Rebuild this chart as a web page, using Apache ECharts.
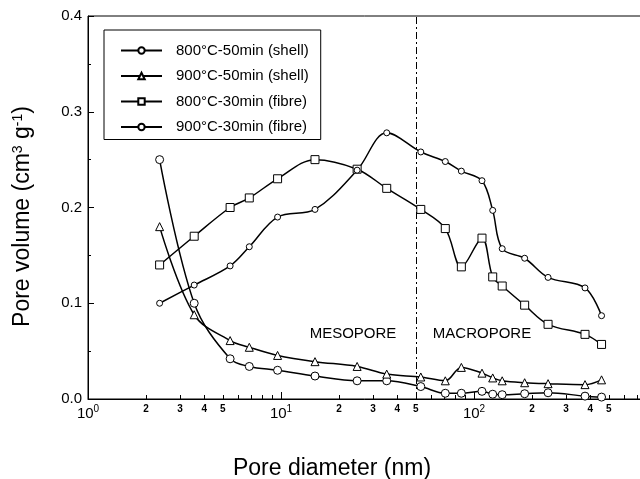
<!DOCTYPE html>
<html><head><meta charset="utf-8">
<script src="https://cdn.jsdelivr.net/npm/echarts@6/dist/echarts.min.js"></script>
<style>html,body{margin:0;padding:0;background:#fff}#c{width:640px;height:479px}</style>
</head><body><div id="c"></div>
<script>
// Pore diameters (nm), shared by all series
var diameters = [2.35, 3.55, 5.45, 6.85, 9.6, 15, 24.8, 35.3, 53, 71, 86, 110, 125, 140, 183, 242, 376, 458];
var shell800_50 = [0.25, 0.10, 0.042, 0.034, 0.030, 0.024, 0.019, 0.019, 0.013, 0.006, 0.006, 0.008, 0.005, 0.0045, 0.0055, 0.0065, 0.003, 0.002];
var shell900_50 = [0.18, 0.088, 0.061, 0.054, 0.0455, 0.039, 0.034, 0.026, 0.023, 0.019, 0.033, 0.027, 0.022, 0.019, 0.017, 0.016, 0.015, 0.020];
var fibre800_30 = [0.14, 0.17, 0.20, 0.21, 0.23, 0.25, 0.24, 0.22, 0.198, 0.178, 0.138, 0.168, 0.1275, 0.118, 0.098, 0.078, 0.0675, 0.057];
var fibre900_30 = [0.10, 0.119, 0.139, 0.159, 0.19, 0.198, 0.239, 0.278, 0.258, 0.248, 0.238, 0.228, 0.197, 0.157, 0.147, 0.127, 0.116, 0.087];
var seriesNames = ['800°C-50min (shell)', '900°C-50min (shell)', '800°C-30min (fibre)', '900°C-30min (fibre)'];
var decadeTicks = [1, 10, 100, 1000];
var minorTicks = [2,3,4,5,6,7,8,9,20,30,40,50,60,70,80,90,200,300,400,500,600,700,800,900];
var minorLabels = [2,3,4,5,20,30,40,50,200,300,400,500];
var boundary = 50;
var regionLabels = ['MESOPORE', 'MACROPORE'];

var FONT = "'Liberation Sans', Arial, sans-serif";
function pairs(v){ return diameters.map(function(d,i){ return [d, v[i]]; }); }
var symbols = ['circle', 'triangle', 'rect', 'circle'];
var sizes = [8, 8, 8, 6];
var vals = [shell800_50, shell900_50, fibre800_30, fibre900_30];

var series = vals.map(function(v, k){
  var s = {
    name: seriesNames[k], type: 'line', xAxisIndex: 0, yAxisIndex: 0,
    data: pairs(v), smooth: 0.35, showAllSymbol: true,
    symbol: symbols[k], symbolSize: sizes[k],
    lineStyle: {color: '#000', width: 1.5},
    itemStyle: {color: '#fff', borderColor: '#000', borderWidth: 1},
    emphasis: {disabled: true}, z: 3
  };
  if (k === 0) {
    s.markLine = {
      silent: true, symbol: ['none', 'none'], label: {show: false},
      lineStyle: {color: '#000', width: 1, type: [7, 3, 2, 3]},
      data: [{xAxis: boundary}]
    };
  }
  return s;
});

var option = {
  backgroundColor: '#fff',
  animation: false,
  textStyle: {fontFamily: FONT, color: '#000'},
  grid: {left: 88, top: 16, right: -27, bottom: 80, show: true, borderColor: '#000', borderWidth: 1,
         containLabel: false, outerBoundsMode: 'none'},
  legend: {
    orient: 'vertical', left: 104, top: 30,
    padding: [13, 12, 5, 16], itemGap: 10.5, itemWidth: 41, itemHeight: 8,
    borderColor: '#000', borderWidth: 1, backgroundColor: '#fff',
    textStyle: {fontFamily: FONT, fontSize: 15, color: '#000', padding: [0, 0, 0, 9],
                backgroundColor: 'rgba(255,255,255,0)'},
    data: seriesNames
  },
  xAxis: [{
    type: 'log', logBase: 10, min: 1, max: 1000, position: 'bottom',
    axisLine: {show: true, onZero: false, lineStyle: {color: '#000', width: 1}},
    axisTick: {show: true, inside: true, length: 7, customValues: decadeTicks, lineStyle: {color: '#000'}},
    axisLabel: {
      customValues: decadeTicks, margin: 4, color: '#000', fontFamily: FONT,
      formatter: function(v){ return '{b|10}{s|' + Math.round(Math.log10(v)) + '}'; },
      rich: {b: {fontSize: 15, fontFamily: FONT, color: '#000', verticalAlign: 'bottom', lineHeight: 18},
             s: {fontSize: 10, fontFamily: FONT, color: '#000', verticalAlign: 'bottom', lineHeight: 18, padding: [0, 0, 7, 0]}}
    },
    splitLine: {show: false},
    name: 'Pore diameter (nm)', nameLocation: 'middle', nameGap: 58,
    nameTextStyle: {fontSize: 23, fontFamily: FONT, color: '#000', padding: [0, 91, 0, 0]}
  }, {
    type: 'log', logBase: 10, min: 1, max: 1000, position: 'bottom', gridIndex: 0,
    axisLine: {show: false, onZero: false},
    axisTick: {show: true, inside: true, length: 4, customValues: minorTicks, lineStyle: {color: '#000'}},
    axisLabel: {
      customValues: minorLabels, margin: 5, color: '#000', fontFamily: FONT, fontSize: 10, fontWeight: 'bold',
      formatter: function(v){ return String(v).charAt(0); }
    },
    splitLine: {show: false}
  }],
  yAxis: {
    type: 'value', min: 0, max: 0.4, interval: 0.1,
    axisLine: {show: true, lineStyle: {color: '#000', width: 1}},
    axisTick: {show: true, inside: true, length: 6, lineStyle: {color: '#000'}},
    minorTick: {show: true, splitNumber: 2, length: 3, lineStyle: {color: '#000'}},
    axisLabel: {margin: 6, fontSize: 15, fontFamily: FONT, color: '#000', formatter: function(v){ return v.toFixed(1); }},
    splitLine: {show: false},
    name: '{t|Pore volume (cm}{s|3}{t| g}{s|-1}{t|)}', nameLocation: 'middle', nameGap: 54,
    nameTextStyle: {
      fontFamily: FONT, color: '#000', padding: [0, 18, 0, 0],
      rich: {t: {fontSize: 23, fontFamily: FONT, color: '#000', verticalAlign: 'bottom', lineHeight: 26},
             s: {fontSize: 14, fontFamily: FONT, color: '#000', verticalAlign: 'bottom', lineHeight: 26, padding: [0, 0, 9, 0]}}
    }
  },
  graphic: [
    {type: 'text', x: 353, y: 334, style: {text: regionLabels[0], font: '15px ' + FONT, fill: '#000', align: 'center', verticalAlign: 'middle'}},
    {type: 'text', x: 482, y: 334, style: {text: regionLabels[1], font: '15px ' + FONT, fill: '#000', align: 'center', verticalAlign: 'middle'}}
  ],
  series: series
};
var chart = echarts.init(document.getElementById('c'), null, {renderer: 'canvas'});
chart.setOption(option);
</script></body></html>
